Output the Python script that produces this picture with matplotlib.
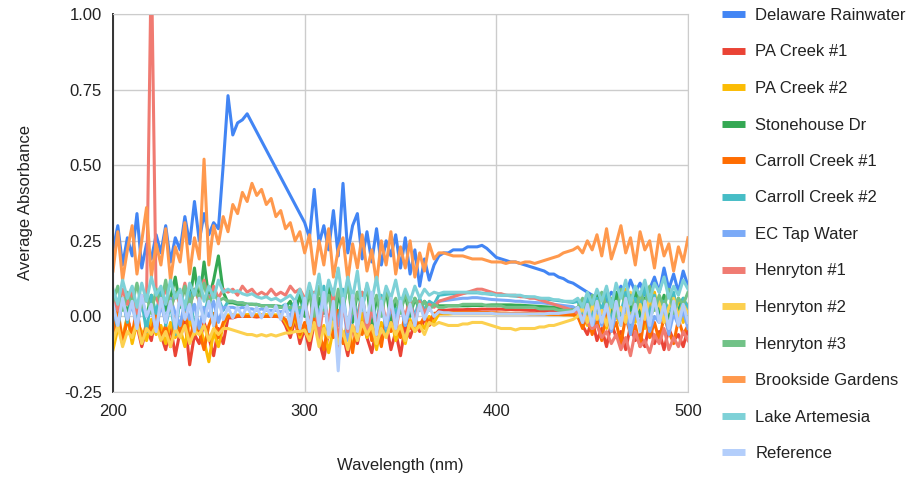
import numpy as np
import matplotlib
matplotlib.use("Agg")
import matplotlib.pyplot as plt
from matplotlib.lines import Line2D

plt.rcParams["font.family"] = ["Liberation Sans", "DejaVu Sans"]
plt.rcParams["font.size"] = 12

# wavelength grid (nm), one value every 2.5 nm from 200 to 500
wavelength = np.arange(200, 500.1, 2.5)

# values, 121 per series
# rows: 200-257.5 | 260-300 | 302.5-367.5 | 370-442.5 | 445-500
delaware = [
    0.22, 0.30, 0.17, 0.26, 0.20, 0.34, 0.16, 0.24, 0.19, 0.27, 0.21, 0.30, 0.18, 0.26, 0.22, 0.33, 0.24, 0.38, 0.25, 0.34, 0.27, 0.31, 0.29, 0.50,
    0.73, 0.60, 0.64, 0.65, 0.67, 0.64, 0.61, 0.58, 0.55, 0.52, 0.49, 0.46, 0.43, 0.40, 0.37, 0.34, 0.31,
    0.26, 0.42, 0.24, 0.30, 0.22, 0.35, 0.20, 0.44, 0.21, 0.30, 0.34, 0.19, 0.28, 0.18, 0.29, 0.17, 0.25, 0.20, 0.27, 0.16, 0.26, 0.14, 0.22, 0.10, 0.19, 0.12, 0.17,
    0.20, 0.21, 0.21, 0.22, 0.22, 0.22, 0.23, 0.23, 0.23, 0.235, 0.225, 0.21, 0.195, 0.19, 0.185, 0.18, 0.18, 0.175, 0.17, 0.165, 0.16, 0.155, 0.15, 0.14, 0.14, 0.13, 0.125, 0.115, 0.11, 0.10,
    0.09, 0.08, 0.07, 0.06, 0.075, 0.05, 0.08, 0.06, 0.10, 0.07, 0.12, 0.08, 0.11, 0.07, 0.09, 0.13, 0.08, 0.16, 0.09, 0.14, 0.08, 0.15, 0.10,
]
pa_creek_1 = [
    -0.06, -0.02, -0.09, 0.00, -0.07, -0.03, -0.10, -0.04, -0.08, 0.01, -0.06, -0.11, -0.03, -0.13, -0.05, -0.01, -0.16, -0.06, -0.09, -0.02, -0.07, -0.13, -0.04, -0.09,
    -0.005, -0.005, 0.0, 0.0, 0.0, 0.0, -0.002, 0.0, 0.0, 0.0, 0.0, -0.002, -0.03, -0.07, -0.01, -0.09, -0.04,
    -0.11, -0.02, -0.08, -0.14, -0.05, -0.01, -0.10, -0.06, -0.13, -0.03, -0.09, -0.01, -0.07, -0.12, -0.04, -0.08, -0.02, -0.11, -0.05, -0.13, -0.03, -0.07, -0.02, -0.05, -0.01, -0.03, 0.00,
    0.02, 0.02, 0.021, 0.022, 0.022, 0.022, 0.023, 0.023, 0.023, 0.024, 0.024, 0.024, 0.024, 0.024, 0.023, 0.023, 0.022, 0.022, 0.021, 0.02, 0.02, 0.019, 0.018, 0.017, 0.016, 0.015, 0.014, 0.012, 0.01, 0.0,
    -0.03, -0.06, -0.01, -0.08, -0.04, -0.10, -0.02, -0.07, -0.05, -0.11, -0.03, -0.08, -0.06, -0.10, -0.02, -0.09, -0.05, -0.11, -0.04, -0.08, -0.06, -0.10, -0.04,
]
pa_creek_2 = [
    -0.11, -0.04, -0.07, 0.00, -0.09, -0.02, -0.05, -0.08, -0.01, -0.06, -0.03, -0.09, -0.02, -0.07, -0.04, -0.10, -0.01, -0.06, -0.03, -0.08, -0.15, -0.05, -0.10, -0.03,
    0.005, 0.005, 0.005, 0.005, 0.006, 0.006, 0.006, 0.006, 0.006, 0.005, 0.005, 0.005, -0.02, -0.05, 0.00, -0.07, -0.03,
    -0.06, 0.01, -0.09, -0.03, -0.12, -0.04, 0.00, -0.08, -0.02, -0.10, -0.05, 0.01, -0.07, -0.03, -0.11, -0.02, -0.06, 0.00, -0.08, -0.04, -0.09, -0.01, -0.05, -0.02, -0.04, 0.00, -0.02,
    0.008, 0.008, 0.008, 0.009, 0.009, 0.009, 0.009, 0.009, 0.009, 0.009, 0.009, 0.009, 0.008, 0.008, 0.008, 0.008, 0.008, 0.008, 0.008, 0.007, 0.007, 0.007, 0.007, 0.006, 0.006, 0.006, 0.005, 0.005, 0.005, 0.0,
    0.03, -0.03, 0.05, -0.02, 0.02, -0.04, 0.06, 0.00, -0.03, 0.09, 0.01, -0.02, 0.07, -0.04, 0.03, 0.08, -0.01, 0.05, -0.03, 0.02, 0.06, -0.02, 0.04,
]
stonehouse = [
    0.04, -0.02, 0.06, 0.01, 0.08, -0.03, 0.05, 0.00, 0.07, -0.02, 0.09, 0.02, 0.06, 0.13, 0.03, 0.10, 0.05, 0.16, 0.04, 0.18, 0.06, 0.12, 0.20, 0.08,
    0.045, 0.045, 0.04, 0.04, 0.04, 0.04, 0.038, 0.036, 0.035, 0.035, 0.035, 0.033, 0.03, 0.05, 0.01, 0.07, 0.00,
    0.09, -0.03, 0.06, 0.01, 0.11, -0.05, 0.07, 0.02, 0.12, -0.02, 0.08, 0.03, 0.10, -0.04, 0.06, 0.01, 0.09, -0.02, 0.05, 0.02, 0.07, 0.00, 0.06, 0.02, 0.05, 0.03, 0.04,
    0.035, 0.035, 0.035, 0.035, 0.035, 0.035, 0.035, 0.036, 0.036, 0.036, 0.037, 0.038, 0.038, 0.038, 0.038, 0.038, 0.037, 0.037, 0.036, 0.035, 0.034, 0.033, 0.032, 0.031, 0.03, 0.028, 0.026, 0.024, 0.022, 0.03,
    -0.01, 0.05, 0.00, 0.07, -0.02, 0.04, 0.01, 0.08, -0.01, 0.05, 0.02, 0.09, 0.00, 0.06, -0.02, 0.05, 0.01, 0.07, -0.01, 0.04, 0.02, 0.06, 0.00,
]
carroll_1 = [
    -0.05, 0.02, -0.08, -0.01, -0.06, 0.03, -0.09, -0.02, -0.05, 0.01, -0.07, -0.03, -0.10, 0.00, -0.06, 0.02, -0.08, -0.01, -0.05, -0.11, -0.03, 0.01, -0.07, -0.02,
    0.0, 0.0, 0.002, 0.002, 0.0, 0.0, 0.002, 0.0, 0.0, 0.002, 0.0, 0.0, -0.01, -0.04, 0.01, -0.06, -0.02,
    -0.08, 0.01, -0.05, -0.11, -0.02, -0.07, 0.02, -0.09, -0.03, -0.12, -0.01, -0.06, 0.01, -0.08, -0.03, -0.10, 0.00, -0.05, -0.02, -0.07, 0.01, -0.04, -0.01, -0.03, 0.00, -0.02, 0.01,
    0.012, 0.012, 0.013, 0.013, 0.013, 0.014, 0.014, 0.014, 0.014, 0.013, 0.013, 0.012, 0.012, 0.011, 0.011, 0.01, 0.01, 0.01, 0.01, 0.009, 0.009, 0.008, 0.008, 0.008, 0.007, 0.007, 0.006, 0.006, 0.005, 0.0,
    -0.04, 0.01, -0.06, -0.01, -0.08, 0.02, -0.05, -0.02, -0.09, 0.00, -0.06, -0.03, -0.10, 0.01, -0.07, -0.02, -0.08, 0.00, -0.05, -0.09, -0.01, -0.06, -0.03,
]
carroll_2 = [
    0.03, -0.04, 0.06, -0.02, 0.08, 0.00, 0.05, -0.05, 0.07, 0.01, 0.09, -0.03, 0.04, -0.06, 0.06, 0.02, 0.08, -0.04, 0.05, 0.00, 0.07, -0.03, 0.06, 0.02,
    0.05, 0.05, 0.045, 0.045, 0.04, 0.04, 0.04, 0.035, 0.035, 0.035, 0.03, 0.03, 0.04, 0.02, 0.05, 0.01, 0.06,
    -0.05, 0.08, -0.02, 0.10, -0.06, 0.05, -0.03, 0.09, -0.07, 0.06, 0.00, 0.08, -0.04, 0.05, -0.02, 0.07, -0.05, 0.04, 0.01, 0.06, -0.03, 0.05, 0.00, 0.06, 0.02, 0.05, 0.04,
    0.07, 0.072, 0.074, 0.075, 0.076, 0.077, 0.078, 0.078, 0.078, 0.077, 0.075, 0.073, 0.072, 0.07, 0.07, 0.068, 0.067, 0.066, 0.065, 0.063, 0.062, 0.06, 0.058, 0.056, 0.054, 0.052, 0.05, 0.048, 0.046, 0.05,
    0.01, 0.07, -0.01, 0.06, 0.02, 0.09, -0.02, 0.05, 0.01, 0.08, -0.03, 0.06, 0.03, 0.10, 0.00, 0.07, -0.02, 0.05, 0.02, 0.08, -0.01, 0.06, 0.03,
]
ec_tap = [
    0.02, -0.03, 0.05, -0.01, 0.04, -0.04, 0.06, 0.00, 0.03, -0.05, 0.04, -0.02, 0.06, 0.01, -0.03, 0.05, -0.01, 0.04, -0.04, 0.03, 0.00, 0.05, -0.02, 0.03,
    0.03, 0.03, 0.025, 0.03, 0.025, 0.025, 0.02, 0.025, 0.02, 0.02, 0.02, 0.015, 0.02, 0.00, 0.04, -0.02, 0.05,
    -0.04, 0.06, -0.01, 0.07, -0.06, 0.03, -0.03, 0.05, -0.08, 0.04, -0.02, 0.06, -0.05, 0.02, -0.03, 0.05, -0.04, 0.03, -0.01, 0.04, -0.03, 0.03, 0.00, 0.04, 0.01, 0.03, 0.04,
    0.05, 0.052, 0.054, 0.056, 0.058, 0.06, 0.06, 0.062, 0.062, 0.06, 0.058, 0.056, 0.055, 0.054, 0.053, 0.052, 0.05, 0.05, 0.048, 0.047, 0.046, 0.045, 0.044, 0.042, 0.04, 0.038, 0.036, 0.034, 0.032, 0.02,
    -0.02, 0.03, -0.04, 0.02, -0.03, 0.04, -0.05, 0.01, -0.02, 0.03, -0.06, 0.02, -0.03, 0.04, -0.05, 0.00, -0.02, 0.03, -0.06, 0.01, -0.03, 0.02, -0.04,
]
henryton_1 = [
    0.06, 0.02, 0.09, 0.04, 0.08, 0.01, 0.07, 0.05, 1.20, 0.06, 0.03, 0.10, 0.02, 0.08, 0.04, 0.11, 0.03, 0.09, 0.05, 0.12, 0.04, 0.10, 0.06, 0.09,
    0.08, 0.09, 0.07, 0.10, 0.08, 0.09, 0.07, 0.08, 0.07, 0.09, 0.07, 0.08, 0.07, 0.10, 0.08, 0.09, 0.06,
    -0.04, 0.08, -0.07, 0.05, -0.02, 0.09, -0.09, 0.04, -0.05, 0.07, -0.03, 0.08, -0.06, 0.03, -0.04, 0.06, -0.02, 0.05, -0.05, 0.04, 0.00, 0.06, -0.03, 0.05, 0.01, 0.04, 0.03,
    0.05, 0.055, 0.06, 0.065, 0.07, 0.075, 0.08, 0.085, 0.09, 0.09, 0.085, 0.08, 0.075, 0.075, 0.07, 0.07, 0.07, 0.065, 0.065, 0.06, 0.06, 0.055, 0.05, 0.045, 0.04, 0.035, 0.03, 0.025, 0.02, 0.01,
    0.00, -0.02, -0.04, -0.03, -0.07, -0.05, -0.09, -0.06, -0.11, -0.07, -0.13, -0.05, -0.10, -0.08, -0.12, -0.06, -0.09, -0.04, -0.11, -0.07, -0.10, -0.05, -0.08,
]
henryton_2 = [
    -0.08, -0.03, -0.10, -0.05, -0.07, -0.02, -0.09, -0.04, -0.06, -0.03, -0.08, -0.05, -0.10, -0.04, -0.07, -0.03, -0.09, -0.05, -0.06, -0.03, -0.08, -0.04, -0.06, -0.04,
    -0.04, -0.045, -0.05, -0.055, -0.06, -0.06, -0.065, -0.06, -0.065, -0.06, -0.065, -0.06, -0.055, -0.055, -0.05, -0.05, -0.045,
    -0.08, -0.02, -0.10, -0.04, -0.07, -0.01, -0.09, -0.05, -0.11, -0.03, -0.08, -0.02, -0.06, -0.03, -0.09, -0.04, -0.07, -0.02, -0.06, -0.03, -0.08, -0.02, -0.05, -0.03, -0.06, -0.02, -0.03,
    -0.02, -0.025, -0.03, -0.03, -0.03, -0.025, -0.025, -0.02, -0.02, -0.02, -0.025, -0.03, -0.035, -0.04, -0.04, -0.04, -0.045, -0.04, -0.04, -0.04, -0.04, -0.035, -0.035, -0.03, -0.03, -0.025, -0.02, -0.015, -0.01, 0.00,
    0.03, -0.02, 0.04, -0.01, 0.02, -0.03, 0.05, 0.00, 0.03, -0.02, 0.08, 0.01, 0.04, -0.01, 0.07, 0.02, 0.05, -0.02, 0.03, 0.06, 0.00, 0.04, 0.01,
]
henryton_3 = [
    0.05, 0.10, 0.02, 0.08, 0.04, 0.11, 0.03, 0.07, 0.01, 0.09, 0.04, 0.12, 0.02, 0.08, 0.05, 0.10, 0.03, 0.09, 0.06, 0.11, 0.04, 0.08, 0.05, 0.06,
    0.05, 0.05, 0.045, 0.045, 0.04, 0.04, 0.04, 0.035, 0.035, 0.035, 0.03, 0.03, 0.03, 0.03, 0.025, 0.03, 0.03,
    0.08, 0.00, 0.10, 0.02, 0.07, -0.01, 0.09, 0.03, 0.11, 0.01, 0.08, 0.04, 0.10, 0.02, 0.07, 0.00, 0.09, 0.03, 0.06, 0.01, 0.08, 0.02, 0.06, 0.03, 0.05, 0.02, 0.04,
    0.03, 0.03, 0.035, 0.035, 0.035, 0.04, 0.04, 0.04, 0.04, 0.04, 0.035, 0.035, 0.035, 0.035, 0.03, 0.03, 0.03, 0.03, 0.03, 0.03, 0.03, 0.025, 0.025, 0.025, 0.025, 0.02, 0.02, 0.02, 0.02, 0.03,
    0.06, 0.01, 0.07, 0.02, 0.08, 0.03, 0.06, 0.00, 0.09, 0.03, 0.07, 0.01, 0.08, 0.04, 0.10, 0.02, 0.07, 0.03, 0.09, 0.01, 0.06, 0.04, 0.08,
]
brookside = [
    0.15, 0.28, 0.12, 0.22, 0.30, 0.14, 0.25, 0.36, 0.13, 0.24, 0.17, 0.29, 0.12, 0.23, 0.18, 0.31, 0.14, 0.26, 0.19, 0.52, 0.17, 0.30, 0.24, 0.33,
    0.28, 0.37, 0.34, 0.41, 0.38, 0.44, 0.40, 0.42, 0.37, 0.39, 0.33, 0.35, 0.29, 0.31, 0.25, 0.28, 0.21,
    0.27, 0.14, 0.25, 0.17, 0.29, 0.13, 0.22, 0.26, 0.12, 0.24, 0.16, 0.27, 0.15, 0.22, 0.11, 0.25, 0.17, 0.28, 0.14, 0.23, 0.16, 0.25, 0.13, 0.21, 0.15, 0.24, 0.19,
    0.21, 0.21, 0.205, 0.20, 0.20, 0.20, 0.195, 0.19, 0.19, 0.19, 0.185, 0.18, 0.18, 0.18, 0.175, 0.18, 0.18, 0.175, 0.18, 0.18, 0.175, 0.18, 0.185, 0.19, 0.195, 0.20, 0.21, 0.215, 0.22, 0.23,
    0.21, 0.25, 0.22, 0.27, 0.20, 0.29, 0.19, 0.24, 0.30, 0.21, 0.26, 0.17, 0.28, 0.22, 0.25, 0.16, 0.27, 0.20, 0.24, 0.15, 0.23, 0.18, 0.26,
]
lake_artemesia = [
    0.09, 0.04, 0.12, 0.06, 0.10, 0.03, 0.11, 0.05, 0.13, 0.07, 0.10, 0.04, 0.12, 0.06, 0.09, 0.03, 0.11, 0.07, 0.13, 0.05, 0.10, 0.06, 0.12, 0.08,
    0.09, 0.08, 0.085, 0.075, 0.07, 0.075, 0.065, 0.06, 0.065, 0.055, 0.06, 0.05, 0.06, 0.07, 0.05, 0.09, 0.04,
    0.11, 0.05, 0.14, 0.03, 0.12, 0.07, 0.16, 0.04, 0.13, 0.06, 0.15, 0.02, 0.11, 0.05, 0.13, 0.03, 0.10, 0.06, 0.12, 0.04, 0.09, 0.05, 0.10, 0.06, 0.09, 0.07, 0.08,
    0.075, 0.08, 0.08, 0.08, 0.08, 0.08, 0.08, 0.08, 0.08, 0.075, 0.075, 0.075, 0.07, 0.07, 0.07, 0.07, 0.07, 0.07, 0.065, 0.065, 0.065, 0.06, 0.06, 0.06, 0.055, 0.055, 0.05, 0.05, 0.05, 0.06,
    0.03, 0.08, 0.04, 0.09, 0.05, 0.10, 0.03, 0.11, 0.06, 0.12, 0.04, 0.10, 0.07, 0.12, 0.05, 0.11, 0.08, 0.13, 0.06, 0.10, 0.07, 0.12, 0.09,
]
reference = [
    0.04, -0.03, 0.06, -0.01, 0.05, -0.04, 0.07, 0.00, 0.04, -0.05, 0.06, -0.02, 0.05, -0.04, 0.07, -0.01, 0.04, -0.05, 0.06, -0.02, 0.05, -0.03, 0.06, -0.01,
    0.03, -0.005, 0.03, 0.0, 0.035, 0.0, 0.03, -0.005, 0.03, 0.0, 0.035, -0.01, 0.04, -0.03, 0.05, -0.04, 0.06,
    -0.05, 0.07, -0.03, 0.08, -0.06, 0.05, -0.18, 0.06, -0.04, 0.07, -0.05, 0.06, -0.02, 0.08, -0.06, 0.05, -0.03, 0.06, -0.04, 0.05, -0.02, 0.04, -0.03, 0.04, -0.01, 0.03, 0.00,
    0.015, 0.012, 0.012, 0.01, 0.01, 0.01, 0.01, 0.01, 0.01, 0.01, 0.01, 0.01, 0.008, 0.008, 0.008, 0.008, 0.008, 0.008, 0.008, 0.008, 0.008, 0.008, 0.008, 0.01, 0.01, 0.01, 0.012, 0.014, 0.016, 0.03,
    -0.02, 0.04, -0.03, 0.05, -0.02, 0.04, -0.04, 0.05, -0.03, 0.06, -0.02, 0.04, -0.05, 0.05, -0.03, 0.06, -0.02, 0.04, -0.04, 0.05, -0.03, 0.04, -0.02,
]

labels = ["Delaware Rainwater", "PA Creek #1", "PA Creek #2", "Stonehouse Dr",
          "Carroll Creek #1", "Carroll Creek #2", "EC Tap Water", "Henryton #1",
          "Henryton #2", "Henryton #3", "Brookside Gardens", "Lake Artemesia",
          "Reference"]
series = [delaware, pa_creek_1, pa_creek_2, stonehouse, carroll_1, carroll_2,
          ec_tap, henryton_1, henryton_2, henryton_3, brookside,
          lake_artemesia, reference]
colors = ["#4285F4", "#EA4335", "#FBBC04", "#34A853", "#FF6D01", "#46BDC6",
          "#7BAAF7", "#F07B72", "#FCD04F", "#71C287", "#FF994D", "#7ED1D7",
          "#B3CEFB"]

for name, s in zip(labels, series):
    if len(s) != len(wavelength):
        raise ValueError(f"{name}: {len(s)} values")

fig = plt.figure(figsize=(9.07, 4.78), dpi=100)
ax = fig.add_axes([113 / 907, 1 - 392 / 478, 575 / 907, 378 / 478])

for s, c in zip(series, colors):
    ax.plot(wavelength, s, color=c, lw=2.2, solid_joinstyle="round")

ax.set_xlim(200, 500)
ax.set_ylim(-0.25, 1.0)
ax.set_xticks([200, 300, 400, 500])
ax.set_yticks([-0.25, 0, 0.25, 0.5, 0.75, 1.0])
ax.set_yticklabels(["-0.25", "0.00", "0.25", "0.50", "0.75", "1.00"])
ax.grid(True, color="#cccccc", lw=1)
ax.set_axisbelow(True)
ax.tick_params(length=0, colors="#222222", labelsize=12)
ax.tick_params(axis="x", pad=9)
ax.tick_params(axis="y", pad=8)
for side in ["top", "right", "bottom"]:
    ax.spines[side].set_color("#cccccc")
ax.spines["left"].set_color("#333333")
ax.spines["left"].set_linewidth(1.4)

ax.set_xlabel("Wavelength (nm)", color="#222222", labelpad=28)
ax.set_ylabel("Average Absorbance", color="#222222", labelpad=22)

handles = [Line2D([], [], color=c, lw=5, solid_capstyle="butt") for c in colors]
fig.legend(handles, labels, loc="upper left", bbox_to_anchor=(722 / 907, 1 - 8 / 478),
           frameon=False, borderpad=0, borderaxespad=0, handlelength=1.4,
           handletextpad=0.6, labelspacing=1.29, fontsize=12, labelcolor="#222222")

fig.savefig("out.png", dpi=100)
